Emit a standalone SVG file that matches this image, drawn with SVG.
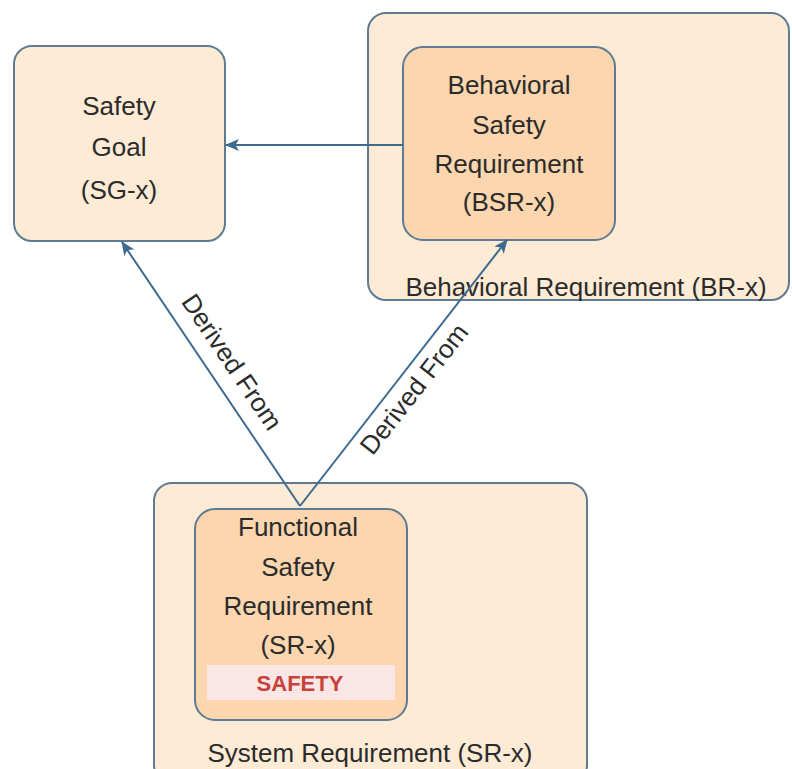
<svg xmlns="http://www.w3.org/2000/svg" width="792" height="769" viewBox="0 0 792 769">
<style>
.outer{fill:#fdebd5;stroke:#5f7a93;stroke-width:2}
.inner{fill:#fbd6ae;stroke:#5f7a93;stroke-width:2}
.t{font-family:"Liberation Sans",Arial,sans-serif;font-size:26px;fill:#2b2b2b;text-anchor:middle;dominant-baseline:central}
.edge{fill:none;stroke:#3e6a90;stroke-width:2}
</style>
<defs>
<marker id="arr" viewBox="0 0 14 12" refX="13" refY="6" markerWidth="14" markerHeight="12" markerUnits="userSpaceOnUse" orient="auto">
<path d="M0,0 L14,6 L0,12 L3.5,6 Z" fill="#3e6a90"/>
</marker>
</defs>
<rect width="792" height="769" fill="#ffffff"/>
<g id="safety-goal">
<rect class="outer" x="14" y="46" width="211" height="195" rx="18"/>
<text class="t" x="119" y="106">Safety</text>
<text class="t" x="119" y="147">Goal</text>
<text class="t" x="119" y="190">(SG-x)</text>
</g>
<g id="behavioral-requirement">
<rect class="outer" x="368" y="13" width="421" height="287" rx="18"/>
<text class="t" x="586" y="287">Behavioral Requirement (BR-x)</text>
</g>
<g id="bsr">
<rect class="inner" x="403" y="47" width="212" height="193" rx="20"/>
<text class="t" x="509" y="85">Behavioral</text>
<text class="t" x="509" y="125">Safety</text>
<text class="t" x="509" y="164">Requirement</text>
<text class="t" x="509" y="202">(BSR-x)</text>
</g>
<g id="system-requirement">
<rect class="outer" x="154" y="483" width="433" height="300" rx="18"/>
<text class="t" x="370" y="753">System Requirement (SR-x)</text>
</g>
<g id="fsr">
<rect class="inner" x="195" y="509" width="212" height="211" rx="20"/>
<text class="t" x="298" y="527">Functional</text>
<text class="t" x="298" y="567">Safety</text>
<text class="t" x="298" y="606">Requirement</text>
<text class="t" x="298" y="645">(SR-x)</text>
<rect x="207" y="665" width="188" height="35" fill="#fbe6e6"/>
<text x="300" y="683" font-family="Liberation Sans,Arial,sans-serif" font-size="22" font-weight="bold" fill="#c8413b" text-anchor="middle" dominant-baseline="central">SAFETY</text>
</g>
<g id="connectors">
<line class="edge" x1="403" y1="145" x2="226" y2="145" marker-end="url(#arr)"/>
<line class="edge" x1="300" y1="506" x2="122" y2="242" marker-end="url(#arr)"/>
<line class="edge" x1="300" y1="506" x2="507" y2="240" marker-end="url(#arr)"/>
<text class="t" transform="translate(232,362) rotate(56)">Derived From</text>
<text class="t" transform="translate(414,389) rotate(-52)">Derived From</text>
</g>
</svg>
